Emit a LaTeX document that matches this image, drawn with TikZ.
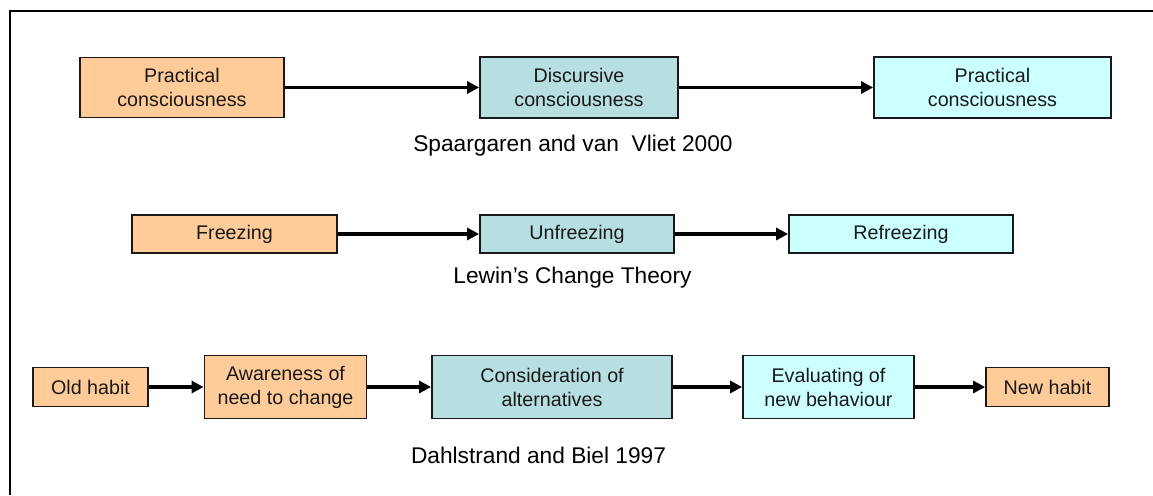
\documentclass[tikz,border=0pt]{standalone}
\usepackage{fontspec}
\setmainfont{Liberation Sans}
\usetikzlibrary{arrows.meta}
\definecolor{orng}{HTML}{FFCC99}
\definecolor{teal2}{HTML}{B7DEE0}
\definecolor{cyan2}{HTML}{CCFFFF}
\tikzset{
  box/.style={draw=black!90, line width=1.8pt, align=center, inner sep=0pt,
    font=\fontsize{19.7}{24}\selectfont, text=black!90},
  conn/.style={line width=3pt, -{Triangle[length=12pt,width=12pt]}},
  captext/.style={anchor=base, font=\fontsize{22.7}{26}\selectfont}
}
\begin{document}
\begin{tikzpicture}[x=1pt,y=-1pt]
\useasboundingbox (0,0) rectangle (1153,495);
\draw[line width=2pt] (10,495) -- (10,11) -- (1153,11);
% row 1
\node[box, fill=orng, minimum width=204pt, minimum height=60pt] (a1) at (182,87.5) {Practical\\consciousness};
\node[box, fill=teal2, minimum width=198pt, minimum height=61pt] (a2) at (579,87.5) {Discursive\\consciousness};
\node[box, fill=cyan2, minimum width=237pt, minimum height=61pt] (a3) at (992.5,87.5) {Practical\\consciousness};
\draw[conn, line width=3pt] (a1) -- (a2);
\draw[conn, line width=3pt] (a2) -- (a3);
\node[captext] (c1) at (573,151) {Spaargaren and van\ \ Vliet 2000};
% row 2
\node[box, fill=orng, minimum width=205pt, minimum height=38pt] (b1) at (234.5,234) {Freezing};
\node[box, fill=teal2, minimum width=194pt, minimum height=38pt] (b2) at (577,234) {Unfreezing};
\node[box, fill=cyan2, minimum width=224pt, minimum height=38pt] (b3) at (901,234) {Refreezing};
\draw[conn, line width=4pt] (b1) -- (b2);
\draw[conn, line width=4pt] (b2) -- (b3);
\node[captext] (c2) at (572.5,283) {Lewin’s Change Theory};
% row 3
\node[box, fill=orng, minimum width=115pt, minimum height=39pt] (d1) at (90.5,387) {Old habit};
\node[box, fill=orng, minimum width=162pt, minimum height=63pt] (d2) at (285.5,387) {Awareness of\\need to change};
\node[box, fill=teal2, minimum width=240pt, minimum height=63pt] (d3) at (552,387) {Consideration of\\alternatives};
\node[box, fill=cyan2, minimum width=171pt, minimum height=63pt] (d4) at (828.5,387) {Evaluating of\\new behaviour};
\node[box, fill=orng, minimum width=123pt, minimum height=39pt] (d5) at (1047.5,387) {New habit};
\draw[conn, line width=4pt] (d1) -- (d2);
\draw[conn, line width=4pt] (d2) -- (d3);
\draw[conn, line width=4pt] (d3) -- (d4);
\draw[conn, line width=4pt] (d4) -- (d5);
\node[captext] (c3) at (538.5,463) {Dahlstrand and Biel 1997};
\end{tikzpicture}
\end{document}
